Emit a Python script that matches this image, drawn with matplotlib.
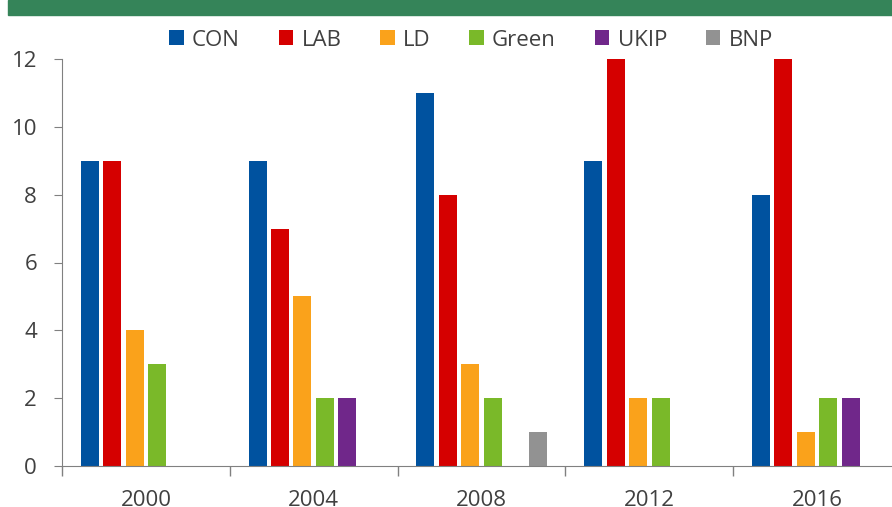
import numpy as np
import matplotlib.pyplot as plt
from matplotlib.patches import Rectangle

plt.rcParams["font.family"] = ["Open Sans", "DejaVu Sans"]

years = ["2000", "2004", "2008", "2012", "2016"]
parties = ["CON", "LAB", "LD", "Green", "UKIP", "BNP"]
con = [9, 9, 11, 9, 8]
lab = [9, 7, 8, 12, 12]
ld = [4, 5, 3, 2, 1]
green = [3, 2, 2, 2, 2]
ukip = [0, 2, 0, 0, 2]
bnp = [0, 0, 1, 0, 0]
colors = ["#00529f", "#d50000", "#faa21b", "#7ab929", "#70278a", "#929292"]

series = [con, lab, ld, green, ukip, bnp]
grey = "#404040"

fig = plt.figure(figsize=(8.92, 5.07), dpi=100)
# green title band (text sits above the visible area)
fig.patches.append(Rectangle((8/892, 1-15/507), 1, 15/507, transform=fig.transFigure,
                             color="#358459", zorder=0))

ax = fig.add_axes([62/892, 41/507, 839/892, 407/507])
x = np.arange(len(years))
slot = 22.5/168
for i, (vals, name, c) in enumerate(zip(series, parties, colors)):
    ax.bar(x + (i - 2.5)*slot, vals, width=18/168, color=c, label=name)

ax.set_xlim(-0.5, 4.5)
ax.set_ylim(0, 12)
ax.set_yticks(range(0, 13, 2))
ax.set_xticks(x)
ax.set_xticklabels(years)
ax.set_xticks(np.arange(-0.5, 5, 1), minor=True)
ax.tick_params(axis="x", which="major", length=0, pad=17, labelsize=16, labelcolor=grey)
ax.tick_params(axis="x", which="minor", length=7, color="#808080", width=1)
ax.tick_params(axis="y", length=6, color="#808080", labelsize=16, labelcolor=grey, pad=12)
for s in ["top", "right"]:
    ax.spines[s].set_visible(False)
for s in ["left", "bottom"]:
    ax.spines[s].set_color("#808080")

ax.legend(loc="center", bbox_to_anchor=(471/892, 1-40/507), bbox_transform=fig.transFigure,
          ncol=6, frameon=False, fontsize=16, handlelength=0.65, handleheight=0.65,
          handletextpad=0.37, columnspacing=1.75, labelcolor=grey)

fig.savefig("out.png", dpi=100)
